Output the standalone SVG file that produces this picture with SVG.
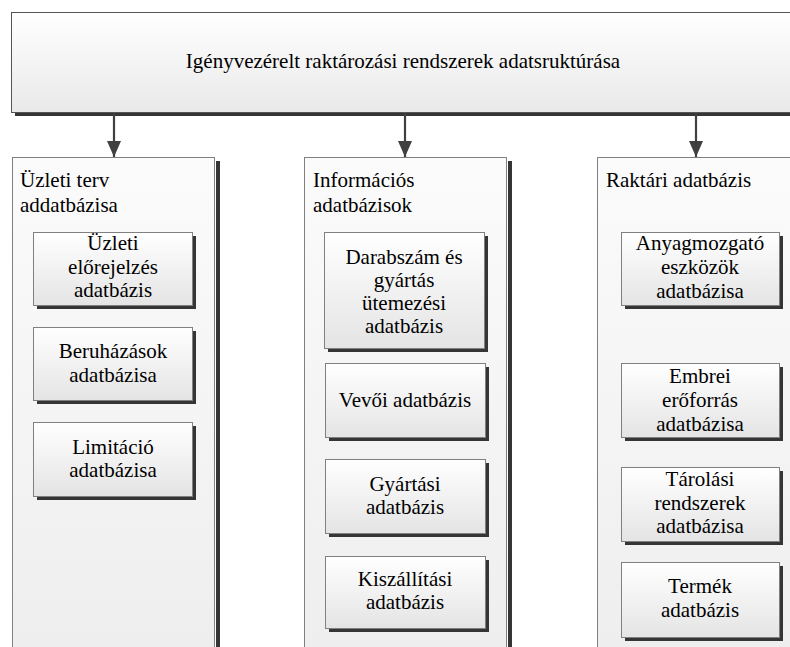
<svg xmlns="http://www.w3.org/2000/svg" width="790" height="647" viewBox="0 0 790 647" font-family="'Liberation Serif', 'Times New Roman', Times, 'DejaVu Serif', serif">
  <style>
    text { font-family: 'Liberation Serif', 'Times New Roman', Times, 'DejaVu Serif', serif; font-size: 21px; fill: #000; }
    .c { text-anchor: middle; }
    .shadow { fill: #353535; }
    .box { fill: url(#boxFill); stroke: #808080; stroke-width: 1; }
    .col { fill: url(#colFill); stroke: #808080; stroke-width: 1; }
    .head { fill: url(#headFill); stroke: #555; stroke-width: 1; }
    .conn { stroke: #404040; stroke-width: 2.2; fill: none; }
  </style>
  <defs>
    <linearGradient id="boxFill" x1="0" y1="0" x2="0" y2="1">
      <stop offset="0" stop-color="#ffffff"/>
      <stop offset="1" stop-color="#e4e4e4"/>
    </linearGradient>
    <linearGradient id="colFill" x1="0" y1="0" x2="0" y2="1">
      <stop offset="0" stop-color="#fbfbfb"/>
      <stop offset="1" stop-color="#eeeeee"/>
    </linearGradient>
    <linearGradient id="headFill" x1="0" y1="0" x2="0" y2="1">
      <stop offset="0" stop-color="#ffffff"/>
      <stop offset="1" stop-color="#e9e9e9"/>
    </linearGradient>
    <marker id="arrow" viewBox="0 0 16 14" refX="16" refY="7" markerWidth="16" markerHeight="14" markerUnits="userSpaceOnUse" orient="auto">
      <path d="M0,0 L16,7 L0,14 Z" fill="#404040"/>
    </marker>
  </defs>

  <!-- header -->
  <g id="header">
    <rect class="shadow" x="15" y="16" width="800" height="100"/>
    <rect class="head" x="11.5" y="12.5" width="800" height="100"/>
    <text class="c" x="403" y="68">Igényvezérelt raktározási rendszerek adatsruktúrása</text>
  </g>

  <!-- columns -->
  <g id="col-uzleti">
    <rect class="shadow" x="216" y="161" width="4" height="500"/>
    <rect class="col" x="12.5" y="157.5" width="202" height="500"/>
    <text x="20" y="187">Üzleti terv</text>
    <text x="20" y="212">addatbázisa</text>
  </g>
  <g id="col-informacios">
    <rect class="shadow" x="508" y="161" width="4" height="500"/>
    <rect class="col" x="304.5" y="157.5" width="202" height="500"/>
    <text x="313" y="187">Információs</text>
    <text x="313" y="212">adatbázisok</text>
  </g>
  <g id="col-raktari">
    <rect class="col" x="597.5" y="157.5" width="202" height="500"/>
    <text x="606" y="187">Raktári adatbázis</text>
  </g>

  <!-- left column items -->
  <g id="uzleti-eloreJelzes">
    <rect class="shadow" x="37" y="236" width="159" height="73"/>
    <rect class="box" x="33.5" y="232.5" width="159" height="73"/>
    <text class="c" x="113" y="250">Üzleti</text>
    <text class="c" x="113" y="274">előrejelzés</text>
    <text class="c" x="113" y="297">adatbázis</text>
  </g>
  <g id="beruhazasok">
    <rect class="shadow" x="37" y="331" width="159" height="73"/>
    <rect class="box" x="33.5" y="327.5" width="159" height="73"/>
    <text class="c" x="113" y="358">Beruházások</text>
    <text class="c" x="113" y="382">adatbázisa</text>
  </g>
  <g id="limitacio">
    <rect class="shadow" x="37" y="426" width="159" height="74"/>
    <rect class="box" x="33.5" y="422.5" width="159" height="74"/>
    <text class="c" x="113" y="454">Limitáció</text>
    <text class="c" x="113" y="477">adatbázisa</text>
  </g>

  <!-- middle column items -->
  <g id="darabszam">
    <rect class="shadow" x="328" y="236" width="160" height="116"/>
    <rect class="box" x="324.5" y="232.5" width="160" height="116"/>
    <text class="c" x="404" y="264">Darabszám és</text>
    <text class="c" x="404" y="287">gyártás</text>
    <text class="c" x="404" y="310">ütemezési</text>
    <text class="c" x="404" y="333">adatbázis</text>
  </g>
  <g id="vevoi">
    <rect class="shadow" x="329" y="367" width="160" height="74"/>
    <rect class="box" x="325.5" y="363.5" width="160" height="74"/>
    <text class="c" x="405" y="407">Vevői adatbázis</text>
  </g>
  <g id="gyartasi">
    <rect class="shadow" x="329" y="463" width="160" height="74"/>
    <rect class="box" x="325.5" y="459.5" width="160" height="74"/>
    <text class="c" x="405" y="491">Gyártási</text>
    <text class="c" x="405" y="514">adatbázis</text>
  </g>
  <g id="kiszallitasi">
    <rect class="shadow" x="329" y="560" width="160" height="72"/>
    <rect class="box" x="325.5" y="556.5" width="160" height="72"/>
    <text class="c" x="405" y="586">Kiszállítási</text>
    <text class="c" x="405" y="609">adatbázis</text>
  </g>

  <!-- right column items -->
  <g id="anyagmozgato">
    <rect class="shadow" x="625" y="236" width="158" height="73"/>
    <rect class="box" x="621.5" y="232.5" width="158" height="73"/>
    <text class="c" x="700" y="250">Anyagmozgató</text>
    <text class="c" x="700" y="274">eszközök</text>
    <text class="c" x="700" y="298">adatbázisa</text>
  </g>
  <g id="embrei">
    <rect class="shadow" x="625" y="367" width="158" height="74"/>
    <rect class="box" x="621.5" y="363.5" width="158" height="74"/>
    <text class="c" x="700" y="383">Embrei</text>
    <text class="c" x="700" y="407">erőforrás</text>
    <text class="c" x="700" y="431">adatbázisa</text>
  </g>
  <g id="tarolasi">
    <rect class="shadow" x="625" y="471" width="158" height="74"/>
    <rect class="box" x="621.5" y="467.5" width="158" height="74"/>
    <text class="c" x="700" y="486">Tárolási</text>
    <text class="c" x="700" y="510">rendszerek</text>
    <text class="c" x="700" y="533">adatbázisa</text>
  </g>
  <g id="termek">
    <rect class="shadow" x="625" y="566" width="158" height="75"/>
    <rect class="box" x="621.5" y="562.5" width="158" height="75"/>
    <text class="c" x="700" y="593">Termék</text>
    <text class="c" x="700" y="617">adatbázis</text>
  </g>

  <!-- connectors -->
  <g id="connectors">
    <line class="conn" x1="114" y1="113" x2="114" y2="157" marker-end="url(#arrow)"/>
    <line class="conn" x1="405" y1="113" x2="405" y2="157" marker-end="url(#arrow)"/>
    <line class="conn" x1="696" y1="113" x2="696" y2="157" marker-end="url(#arrow)"/>
  </g>
</svg>
